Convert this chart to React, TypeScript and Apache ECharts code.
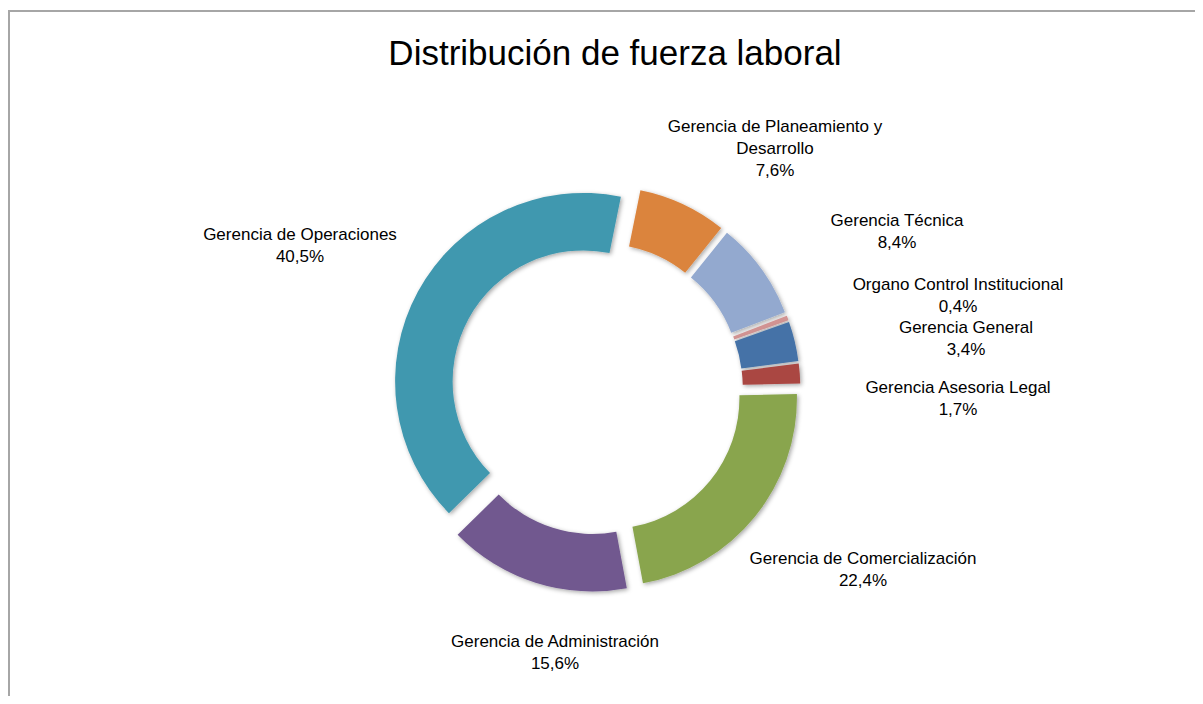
import React, { useEffect, useRef } from "react";
import * as echarts from "echarts";

const TITLE = "Distribución de fuerza laboral";

// clockwise from 3 o'clock
const categories = [
  "Gerencia de Comercialización",
  "Gerencia de Administración",
  "Gerencia de Operaciones",
  "Gerencia de Planeamiento y\nDesarrollo",
  "Gerencia Técnica",
  "Organo Control Institucional",
  "Gerencia General",
  "Gerencia Asesoria Legal",
];
const values = [22.4, 15.6, 40.5, 7.6, 8.4, 0.4, 3.4, 1.7];
const colors = ["#89A54E", "#71588F", "#4198AF", "#DB843D", "#93A9CF", "#D19392", "#4572A7", "#AA4643"];

// label anchor positions (chart pixels), same order as categories
const labelPos = [
  [855, 561.5],
  [547, 644],
  [292, 237],
  [767, 140.5],
  [889, 223],
  [950, 287.5],
  [958, 330],
  [950, 390.5],
];

const FONT = "'Liberation Sans', Arial, sans-serif";

export default function App() {
  const ref = useRef<HTMLDivElement>(null);
  useEffect(() => {
    if (!ref.current) return;
    const chart = echarts.init(ref.current, undefined, { renderer: "svg" });
    const ringData = categories.map((name, i) => ({
      name,
      value: values[i],
      selected: true,
      itemStyle: { color: colors[i] },
    }));
    const labelData = categories.map((name, i) => ({ name, value: values[i] }));
    const common = {
      type: "pie",
      center: [588.8, 380.6],
      radius: [131, 188.5],
      startAngle: 1.2,
      clockwise: true,
      avoidLabelOverlap: false,
      emphasis: { disabled: true },
    };
    chart.setOption({
      animation: false,
      backgroundColor: "#ffffff",
      graphic: [
        {
          type: "rect",
          shape: { x: 1, y: 3, width: 1400, height: 900 },
          style: { fill: "none", stroke: "#a6a6a6", lineWidth: 2 },
          silent: true,
          z: 0,
        },
        {
          type: "text",
          x: 607,
          y: 44,
          style: {
            text: TITLE,
            font: `35px ${FONT}`,
            fill: "#000000",
            align: "center",
            verticalAlign: "middle",
          },
        },
      ],
      series: [
        {
          ...common,
          selectedMode: "multiple",
          selectedOffset: 15,
          itemStyle: {
            borderWidth: 0,
            shadowBlur: 4,
            shadowColor: "rgba(0,0,0,0.35)",
            shadowOffsetX: 1.5,
            shadowOffsetY: 1.5,
          },
          label: { show: false },
          labelLine: { show: false },
          data: ringData,
        },
        {
          ...common,
          silent: true,
          selectedMode: false,
          itemStyle: { color: "rgba(0,0,0,0)", borderWidth: 0 },
          label: {
            show: true,
            position: "outside",
            color: "#000000",
            fontFamily: FONT,
            fontSize: 17,
            lineHeight: 22,
            formatter: (p: any) => `${p.name}\n${Number(p.value).toFixed(1).replace(".", ",")}%`,
          },
          labelLine: { show: false },
          labelLayout: (p: any) => ({
            x: labelPos[p.dataIndex][0],
            y: labelPos[p.dataIndex][1],
            align: "center",
            verticalAlign: "middle",
          }),
          data: labelData,
        },
      ],
    });
    return () => chart.dispose();
  }, []);
  return <div ref={ref} style={{ width: 1187, height: 688 }} />;
}
